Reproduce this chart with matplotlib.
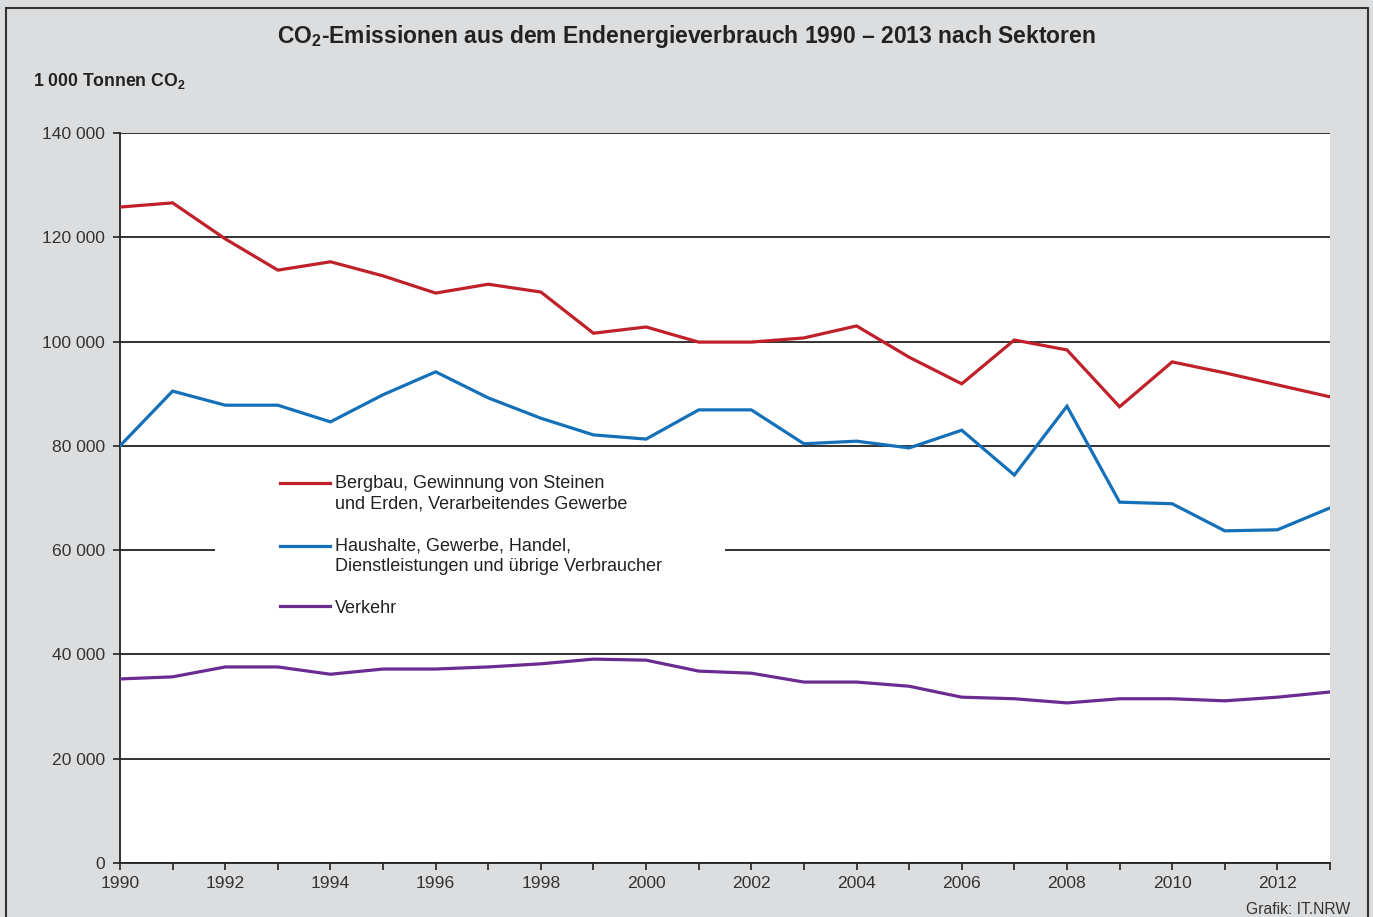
import matplotlib
matplotlib.use('Agg')
import matplotlib.pyplot as plt
from matplotlib.patches import Rectangle
from matplotlib.ticker import FuncFormatter, MultipleLocator

plt.rcParams['font.family'] = ['Liberation Sans', 'DejaVu Sans']
plt.rcParams['mathtext.fontset'] = 'custom'
plt.rcParams['mathtext.rm'] = 'Liberation Sans'
plt.rcParams['mathtext.bf'] = 'Liberation Sans:bold'

years = list(range(1990, 2014))
industrie = [125.8, 126.6, 119.7, 113.7, 115.3, 112.6, 109.3, 111.0, 109.5, 101.6, 102.8, 99.9,
             99.9, 100.7, 103.0, 97.0, 91.9, 100.3, 98.4, 87.5, 96.1, 94.0, 91.7, 89.4]
haushalte = [80.0, 90.5, 87.8, 87.8, 84.6, 89.8, 94.2, 89.2, 85.3, 82.1, 81.3, 86.9,
             86.9, 80.4, 80.9, 79.6, 83.0, 74.4, 87.6, 69.2, 68.9, 63.7, 63.9, 68.1]
verkehr = [35.3, 35.7, 37.6, 37.6, 36.2, 37.2, 37.2, 37.6, 38.2, 39.1, 38.9, 36.8,
           36.4, 34.7, 34.7, 33.9, 31.8, 31.5, 30.7, 31.5, 31.5, 31.1, 31.8, 32.8]
labels = ['Bergbau, Gewinnung von Steinen\nund Erden, Verarbeitendes Gewerbe',
          'Haushalte, Gewerbe, Handel,\nDienstleistungen und übrige Verbraucher',
          'Verkehr']
colors = ['#c0202a', '#1470b8', '#6b2c91']

fig = plt.figure(figsize=(13.73, 9.17), dpi=100)
fig.patch.set_facecolor('#dcdddf')
fig.patches.append(Rectangle((6 / 1373, -0.05), 1362 / 1373, 1.05 - 8 / 917,
                             transform=fig.transFigure, fill=False,
                             edgecolor='#333333', lw=1.5))

ax = fig.add_axes([120 / 1373, 1 - 863 / 917, 1210 / 1373, 730 / 917])
ax.set_facecolor('white')

for vals, lab, col in zip([industrie, haushalte, verkehr], labels, colors):
    ax.plot(years, [v * 1000 for v in vals], color=col, lw=2.3, label=lab,
            solid_joinstyle='miter', zorder=4)

ax.set_xlim(1990, 2013)
ax.set_ylim(0, 140000)
ax.yaxis.set_major_locator(MultipleLocator(20000))
ax.xaxis.set_major_locator(MultipleLocator(2))
ax.xaxis.set_minor_locator(MultipleLocator(1))
ax.yaxis.set_major_formatter(FuncFormatter(lambda v, p: f'{int(v):,}'.replace(',', ' ')))
ax.set_axisbelow(True)
ax.grid(axis='y', color='#222222', lw=1.3)
for s in ['top', 'right']:
    ax.spines[s].set_visible(False)
for s in ['left', 'bottom']:
    ax.spines[s].set_color('#222222')
    ax.spines[s].set_linewidth(1.3)
ax.tick_params(axis='both', which='both', direction='out', length=5, width=1.2,
               color='#222222', labelsize=12.6, labelcolor='#333333')
ax.tick_params(axis='x', pad=4)
ax.tick_params(axis='y', pad=6)

# white block behind the legend (interrupts the 60 000 gridline)
ax.add_patch(Rectangle((95 / 1210, (863 - 628) / 730), 510 / 1210, 155 / 730,
                       transform=ax.transAxes, facecolor='white', edgecolor='none', zorder=3))

leg = ax.legend(loc='upper left', bbox_to_anchor=(160 / 1210, (863 - 475) / 730),
                frameon=False, fontsize=13, handlelength=2.75, handletextpad=0.3,
                labelspacing=1.35, borderpad=0, borderaxespad=0)
leg.set_zorder(5)
for t in leg.get_texts():
    t.set_color('#222222')
    t.set_linespacing(1.3)
# put the handle of two-line entries next to the first line
for ln in leg.get_lines()[:2]:
    ln.set_ydata([y + 7.8 for y in ln.get_ydata()])

fig.text(0.5, 1 - 36 / 917, r'CO$_\mathbf{2}$-Emissionen aus dem Endenergieverbrauch 1990 – 2013 nach Sektoren',
         ha='center', va='center', fontsize=16.5, fontweight='bold', color='#222222')
fig.text(33 / 1373, 1 - 81 / 917, r'1 000 Tonnen CO$_\mathbf{2}$', ha='left', va='center',
         fontsize=12.7, fontweight='bold', color='#222222')
fig.text(1350 / 1373, 1 - 910 / 917, 'Grafik: IT.NRW', ha='right', va='center',
         fontsize=11.3, color='#333333')

fig.savefig('out.png', dpi=100, facecolor=fig.get_facecolor())
